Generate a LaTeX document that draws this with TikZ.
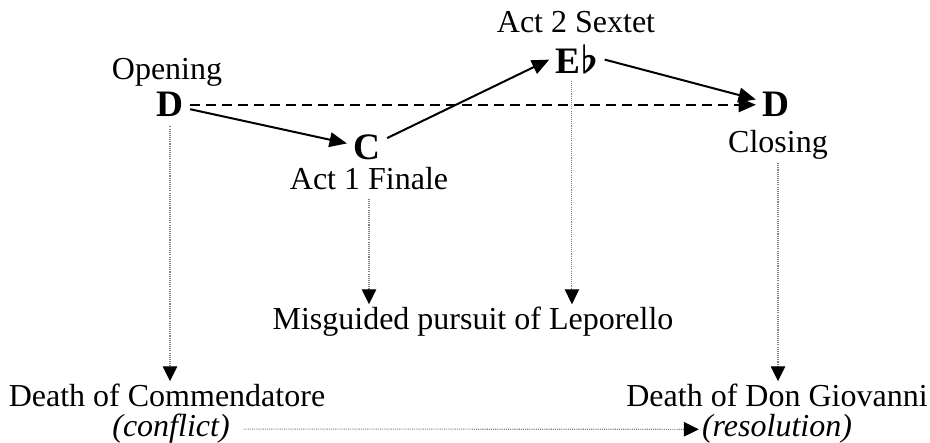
\documentclass[tikz,border=0pt]{standalone}
\usepackage{fontspec}
\setmainfont{Liberation Serif}
\usetikzlibrary{arrows.meta}
\begin{document}
\begin{tikzpicture}[x=0.375pt, y=-0.375pt, font=\fontsize{12}{14}\selectfont,
  lbl/.style={inner sep=1pt, anchor=base},
  keynode/.style={inner sep=1pt, outer sep=1.5pt, anchor=base, font=\fontsize{14}{16}\selectfont\bfseries\boldmath},
  tonalarrow/.style={line width=0.75pt, -{Triangle[length=6.5pt, width=5.5pt]}},
  dotlink/.style={gray, line width=0.4pt, dash pattern=on 0.4pt off 0.4pt, -{Triangle[length=5.6pt, width=5.4pt, color=black]}}]
\useasboundingbox (0,0) rectangle (930,443);

% key areas
\node[lbl] (open) at (167,80) {Opening};
\node[keynode] (d1) at (170,117) {D};
\node[keynode] (c) at (367,160) {C};
\node[lbl] (fin) at (369,190) {Act 1 Finale};
\node[lbl] (sextet) at (576,33) {Act 2 Sextet};
\node[keynode] (eb) at (577,74) {E$\flat$};
\node[keynode] (d2) at (776,117) {D};
\node[lbl] (close) at (778,153) {Closing};

% dramatic events
\node[lbl] (mis) at (473,330) {Misguided pursuit of Leporello};
\node[lbl] (comm) at (167,407) {Death of Commendatore};
\node[lbl] (giov) at (777,407) {Death of Don Giovanni};
\node[lbl] (confl) at (171,437) {\textit{(conflict)}};
\node[lbl] (resol) at (777,437) {\textit{(resolution)}};

\draw[tonalarrow] (d1) -- (c);
\draw[tonalarrow] (c) -- (eb.west);
\draw[tonalarrow] (eb.east) -- (d2);
\draw[tonalarrow, dash pattern=on 3.75pt off 2.25pt] (d1) -- (d2);

\draw[dotlink, shorten <=1pt] (d1.south) -- (d1.south |- comm.north);
\draw[dotlink, shorten <=2pt] (fin.south) -- (fin.south |- mis.north);
\draw[dotlink] ([xshift=-1.9pt]eb.south) -- ([xshift=-1.9pt]eb.south |- mis.north);
\draw[dotlink] (close.south) -- (close.south |- giov.north);
\draw[dotlink, shorten <=4pt] (confl.east) -- (resol.west);
\end{tikzpicture}
\end{document}
